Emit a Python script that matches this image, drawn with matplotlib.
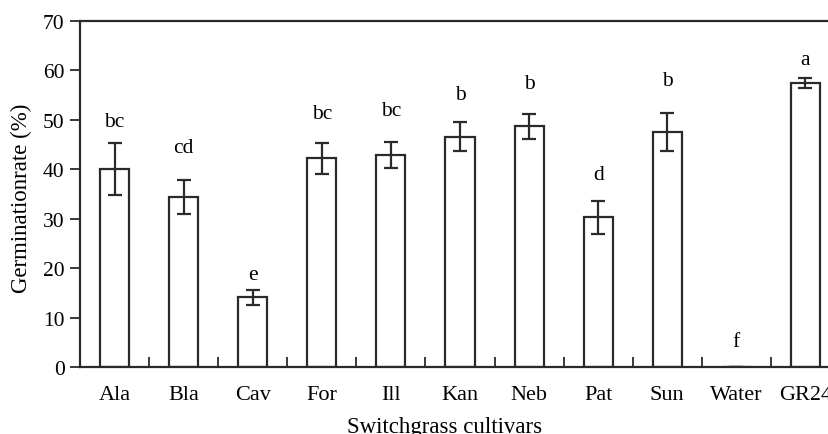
import numpy as np
import matplotlib
matplotlib.use('Agg')
import matplotlib.pyplot as plt
from matplotlib.ticker import FixedLocator, NullFormatter

plt.rc('font', family='Liberation Serif', size=15)

cultivars = ['Ala', 'Bla', 'Cav', 'For', 'Ill', 'Kan', 'Neb', 'Pat', 'Sun', 'Water', 'GR24']
rate = [40.0, 34.4, 14.1, 42.2, 42.9, 46.6, 48.7, 30.3, 47.6, 0.0, 57.5]
err = [5.3, 3.5, 1.5, 3.1, 2.6, 2.9, 2.5, 3.3, 3.8, 0.0, 1.05]
letters = ['bc', 'cd', 'e', 'bc', 'bc', 'b', 'b', 'd', 'b', 'f', 'a']
letter_y = [49.6, 44.5, 18.8, 51.2, 51.9, 55.2, 57.3, 39.0, 57.9, 5.1, 62.3]

col = '#2a2a2a'
fig = plt.figure(figsize=(8.29, 4.35), dpi=100)
ax = fig.add_axes([80/829, 1-368/435, 760/829, 346/435])

x = np.arange(len(cultivars))
ax.bar(x, rate, width=0.42, color='white', edgecolor=col, linewidth=1.6, zorder=2)
ax.errorbar(x, rate, yerr=err, fmt='none', ecolor=col, elinewidth=1.6,
            capsize=5, capthick=1.6, zorder=3)
for i in range(len(x)):
    ax.text(x[i], letter_y[i], letters[i], ha='center', va='center', fontsize=15.5)

ax.set_xlim(-0.5, len(cultivars) - 0.5)
ax.set_ylim(0, 70)
ax.set_yticks(range(0, 71, 10))
ax.set_xticks(x)
ax.set_xticklabels(cultivars, fontsize=16)
ax.xaxis.set_minor_locator(FixedLocator(np.arange(0.5, len(cultivars) - 0.5, 1)))
ax.xaxis.set_minor_formatter(NullFormatter())
ax.tick_params(axis='x', which='major', length=0, pad=13, colors=col, labelcolor='black')
ax.tick_params(axis='x', which='minor', direction='in', length=7, width=1.3, colors=col)
ax.tick_params(axis='y', direction='out', length=7, width=1.3, colors=col,
               labelcolor='black', pad=4, labelsize=15.5)
for s in ax.spines.values():
    s.set_color(col)
    s.set_linewidth(1.6)

fig.text(445/829, 1-433/435, 'Switchgrass cultivars', ha='center', va='baseline', fontsize=16.5)
ax.set_ylabel('Germinationrate (%)', fontsize=16.5)
ax.yaxis.set_label_coords(-(80-21)/760, 0.49)
ax.yaxis.label.set_va('center')

fig.savefig('out.png', dpi=100)
